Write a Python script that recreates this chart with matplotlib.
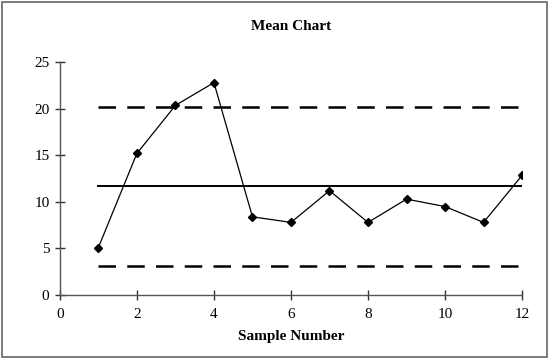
import matplotlib
matplotlib.use("Agg")
import matplotlib.pyplot as plt
from matplotlib.patches import Rectangle

samples = [1, 2, 3, 4, 5, 6, 7, 8, 9, 10, 11, 12]
means = [5.1, 15.2, 20.35, 22.8, 8.4, 7.8, 11.2, 7.8, 10.3, 9.5, 7.8, 12.85]
ucl = 20.15
cl = 11.7
lcl = 3.1
x_ticks = [0, 2, 4, 6, 8, 10, 12]
y_ticks = [0, 5, 10, 15, 20, 25]

plt.rcParams['font.family'] = ['Liberation Serif', 'DejaVu Serif']

fig = plt.figure(figsize=(5.49, 3.59), dpi=100)
ax = fig.add_axes([0.109, 0.178, 0.842, 0.649])

ax.plot(samples, means, color='black', lw=0.9, marker='D', markersize=4.5, zorder=3)
ax.plot([samples[0], samples[-1]], [ucl, ucl], color='black', lw=1.8, dashes=(7, 4.5))
ax.plot([samples[0], samples[-1]], [lcl, lcl], color='black', lw=1.8, dashes=(7, 4.5))
ax.plot([samples[0], samples[-1]], [cl, cl], color='black', lw=1.4)

ax.set_xlim(0, 12)
ax.set_ylim(0, 25)
ax.set_xticks(x_ticks)
ax.set_yticks(y_ticks)
for s in ['top', 'right']:
    ax.spines[s].set_visible(False)
for s in ['left', 'bottom']:
    ax.spines[s].set_color('#555555')
    ax.spines[s].set_linewidth(1.0)
ax.tick_params(direction='inout', length=7, width=1.0, color='#333333', labelsize=11)
ax.tick_params(axis='x', pad=6)
ax.tick_params(axis='y', pad=4)

ax.set_title('Mean Chart', fontsize=11, fontweight='bold', pad=23)
ax.set_xlabel('Sample Number', fontsize=11, fontweight='bold', labelpad=6)

fig.patches.append(Rectangle((0.004, 0.006), 0.992, 0.988, transform=fig.transFigure,
                             fill=False, edgecolor='#666666', lw=1.2))

fig.savefig('out.png', dpi=100)
